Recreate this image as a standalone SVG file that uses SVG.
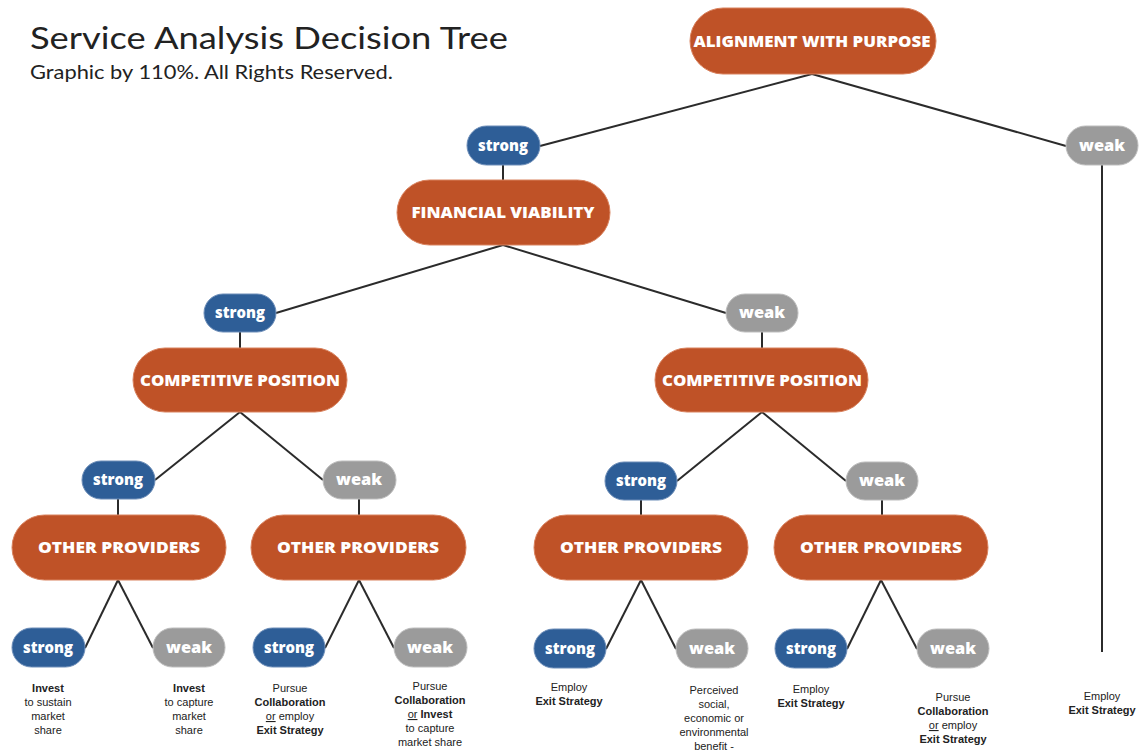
<svg xmlns="http://www.w3.org/2000/svg" width="1140" height="751" viewBox="0 0 1140 751">
<style>
.o{fill:#BF5227;stroke:#D9825E;stroke-width:1}
.b{fill:#2E5E97;stroke:#6C8DB8;stroke-width:1}
.g{fill:#9B9B9B;stroke:#BDBDBD;stroke-width:1}
.ot{font-family:"Open Sans","Liberation Sans",sans-serif;font-weight:800;font-size:16px;fill:#fff;text-anchor:middle}
.lt{font-family:"Open Sans","Liberation Sans",sans-serif;font-weight:800;font-size:15px;fill:#fff;text-anchor:middle}
.c line{stroke:#2b2b2b;stroke-width:2}
.n{font-family:"Liberation Sans",Arial,sans-serif;font-size:11px;fill:#222;text-anchor:middle}
.n .bd{font-weight:bold}
.n .u{text-decoration:underline}
</style>
<rect width="1140" height="751" fill="#fff"/>
<text x="30" y="49" font-family="Lato,'Liberation Sans',sans-serif" font-size="31" fill="#222" textLength="478" lengthAdjust="spacingAndGlyphs">Service Analysis Decision Tree</text>
<text x="30" y="79" font-family="Lato,'Liberation Sans',sans-serif" font-size="19" fill="#222" textLength="363" lengthAdjust="spacingAndGlyphs">Graphic by 110%. All Rights Reserved.</text>
<g class="c" id="connectors">
<line x1="812" y1="74" x2="540" y2="146"/>
<line x1="812" y1="74" x2="1066" y2="146"/>
<line x1="503" y1="165" x2="503" y2="180"/>
<line x1="1102" y1="165" x2="1102" y2="652"/>
<line x1="503" y1="245" x2="276" y2="313"/>
<line x1="503" y1="245" x2="726" y2="313"/>
<line x1="240" y1="332" x2="240" y2="348"/>
<line x1="762" y1="332" x2="762" y2="348"/>
<line x1="240" y1="412" x2="155" y2="480"/>
<line x1="240" y1="412" x2="323" y2="480"/>
<line x1="762" y1="412" x2="677" y2="481"/>
<line x1="762" y1="412" x2="846" y2="481"/>
<line x1="118" y1="499" x2="118" y2="515"/>
<line x1="359" y1="499" x2="359" y2="515"/>
<line x1="641" y1="500" x2="641" y2="515"/>
<line x1="882" y1="500" x2="882" y2="515"/>
<line x1="118" y1="580" x2="85" y2="648"/>
<line x1="118" y1="580" x2="153" y2="648"/>
<line x1="359" y1="580" x2="325" y2="648"/>
<line x1="359" y1="580" x2="394" y2="648"/>
<line x1="641" y1="580" x2="606" y2="649"/>
<line x1="641" y1="580" x2="676" y2="649"/>
<line x1="881" y1="580" x2="847" y2="649"/>
<line x1="881" y1="580" x2="917" y2="649"/>
</g>
<g id="alignment"><rect class="o" x="690" y="8" width="246" height="66" rx="33"/><text class="ot" x="812" y="47" textLength="237" lengthAdjust="spacingAndGlyphs">ALIGNMENT WITH PURPOSE</text></g>
<g id="s1"><rect class="b" x="467" y="126" width="73" height="39" rx="19.5"/><text class="lt" x="503" y="151" textLength="50" lengthAdjust="spacingAndGlyphs">strong</text></g>
<g id="w1"><rect class="g" x="1066" y="126" width="72" height="39" rx="19.5"/><text class="lt" x="1102" y="151" textLength="46" lengthAdjust="spacingAndGlyphs">weak</text></g>
<g id="financial"><rect class="o" x="397" y="180" width="213" height="65" rx="32.5"/><text class="ot" x="503" y="218" textLength="183" lengthAdjust="spacingAndGlyphs">FINANCIAL VIABILITY</text></g>
<g id="s2"><rect class="b" x="204" y="294" width="72" height="38" rx="19"/><text class="lt" x="240" y="318" textLength="50" lengthAdjust="spacingAndGlyphs">strong</text></g>
<g id="w2"><rect class="g" x="726" y="294" width="72" height="38" rx="19"/><text class="lt" x="762" y="318" textLength="46" lengthAdjust="spacingAndGlyphs">weak</text></g>
<g id="compL"><rect class="o" x="133" y="348" width="214" height="64" rx="32"/><text class="ot" x="240" y="386" textLength="200" lengthAdjust="spacingAndGlyphs">COMPETITIVE POSITION</text></g>
<g id="compR"><rect class="o" x="655" y="348" width="213" height="64" rx="32"/><text class="ot" x="762" y="386" textLength="200" lengthAdjust="spacingAndGlyphs">COMPETITIVE POSITION</text></g>
<g id="s3a"><rect class="b" x="82" y="461" width="73" height="38" rx="19"/><text class="lt" x="118" y="485" textLength="50" lengthAdjust="spacingAndGlyphs">strong</text></g>
<g id="w3a"><rect class="g" x="323" y="461" width="73" height="38" rx="19"/><text class="lt" x="359" y="485" textLength="46" lengthAdjust="spacingAndGlyphs">weak</text></g>
<g id="s3b"><rect class="b" x="605" y="462" width="72" height="38" rx="19"/><text class="lt" x="641" y="486" textLength="50" lengthAdjust="spacingAndGlyphs">strong</text></g>
<g id="w3b"><rect class="g" x="846" y="462" width="72" height="38" rx="19"/><text class="lt" x="882" y="486" textLength="46" lengthAdjust="spacingAndGlyphs">weak</text></g>
<g id="op1"><rect class="o" x="12" y="515" width="214" height="65" rx="32.5"/><text class="ot" x="119" y="553" textLength="162" lengthAdjust="spacingAndGlyphs">OTHER PROVIDERS</text></g>
<g id="op2"><rect class="o" x="251" y="515" width="215" height="65" rx="32.5"/><text class="ot" x="358" y="553" textLength="162" lengthAdjust="spacingAndGlyphs">OTHER PROVIDERS</text></g>
<g id="op3"><rect class="o" x="534" y="515" width="214" height="65" rx="32.5"/><text class="ot" x="641" y="553" textLength="162" lengthAdjust="spacingAndGlyphs">OTHER PROVIDERS</text></g>
<g id="op4"><rect class="o" x="774" y="515" width="214" height="65" rx="32.5"/><text class="ot" x="881" y="553" textLength="162" lengthAdjust="spacingAndGlyphs">OTHER PROVIDERS</text></g>
<g id="l1"><rect class="b" x="12" y="628" width="73" height="39" rx="19.5"/><text class="lt" x="48" y="653" textLength="50" lengthAdjust="spacingAndGlyphs">strong</text></g>
<g id="l2"><rect class="g" x="153" y="628" width="72" height="39" rx="19.5"/><text class="lt" x="189" y="653" textLength="46" lengthAdjust="spacingAndGlyphs">weak</text></g>
<g id="l3"><rect class="b" x="253" y="628" width="72" height="39" rx="19.5"/><text class="lt" x="289" y="653" textLength="50" lengthAdjust="spacingAndGlyphs">strong</text></g>
<g id="l4"><rect class="g" x="394" y="628" width="73" height="39" rx="19.5"/><text class="lt" x="430" y="653" textLength="46" lengthAdjust="spacingAndGlyphs">weak</text></g>
<g id="l5"><rect class="b" x="534" y="629" width="72" height="39" rx="19.5"/><text class="lt" x="570" y="654" textLength="50" lengthAdjust="spacingAndGlyphs">strong</text></g>
<g id="l6"><rect class="g" x="676" y="629" width="72" height="39" rx="19.5"/><text class="lt" x="712" y="654" textLength="46" lengthAdjust="spacingAndGlyphs">weak</text></g>
<g id="l7"><rect class="b" x="775" y="629" width="72" height="39" rx="19.5"/><text class="lt" x="811" y="654" textLength="50" lengthAdjust="spacingAndGlyphs">strong</text></g>
<g id="l8"><rect class="g" x="917" y="629" width="72" height="39" rx="19.5"/><text class="lt" x="953" y="654" textLength="46" lengthAdjust="spacingAndGlyphs">weak</text></g>
<g id="outcomes" class="n">
<text x="48" y="692"><tspan class="bd">Invest</tspan><tspan x="48" dy="14">to sustain</tspan><tspan x="48" dy="14">market</tspan><tspan x="48" dy="14">share</tspan></text>
<text x="189" y="692"><tspan class="bd">Invest</tspan><tspan x="189" dy="14">to capture</tspan><tspan x="189" dy="14">market</tspan><tspan x="189" dy="14">share</tspan></text>
<text x="290" y="692">Pursue<tspan x="290" dy="14" class="bd">Collaboration</tspan><tspan x="290" dy="14"><tspan class="u">or</tspan> employ</tspan><tspan x="290" dy="14" class="bd">Exit Strategy</tspan></text>
<text x="430" y="690">Pursue<tspan x="430" dy="14" class="bd">Collaboration</tspan><tspan x="430" dy="14"><tspan class="u">or</tspan> <tspan class="bd">Invest</tspan></tspan><tspan x="430" dy="14">to capture</tspan><tspan x="430" dy="14">market share</tspan></text>
<text x="569" y="691">Employ<tspan x="569" dy="14" class="bd">Exit Strategy</tspan></text>
<text x="714" y="694">Perceived<tspan x="714" dy="14">social,</tspan><tspan x="714" dy="14">economic or</tspan><tspan x="714" dy="14">environmental</tspan><tspan x="714" dy="14">benefit -</tspan></text>
<text x="811" y="693">Employ<tspan x="811" dy="14" class="bd">Exit Strategy</tspan></text>
<text x="953" y="701">Pursue<tspan x="953" dy="14" class="bd">Collaboration</tspan><tspan x="953" dy="14"><tspan class="u">or</tspan> employ</tspan><tspan x="953" dy="14" class="bd">Exit Strategy</tspan></text>
<text x="1102" y="700">Employ<tspan x="1102" dy="14" class="bd">Exit Strategy</tspan></text>
</g>
</svg>
